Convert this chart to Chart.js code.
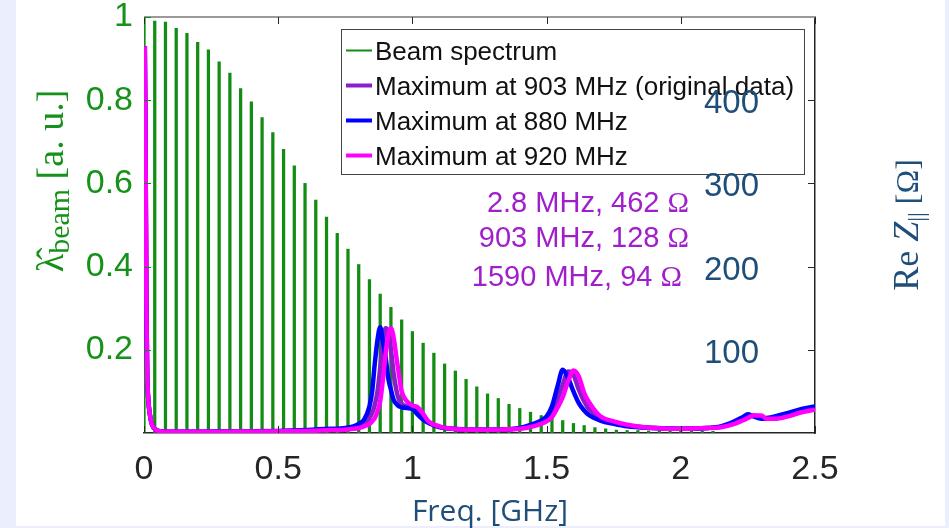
<!DOCTYPE html>
<html>
<head>
<meta charset="utf-8">
<title>Beam spectrum and impedance</title>
<script src="https://cdn.jsdelivr.net/npm/chart.js@4.4.1/dist/chart.umd.min.js"></script>
<style>
  html, body { margin: 0; padding: 0; background: #ebeefc; overflow: hidden; }
  #page { position: absolute; left: 16px; top: 0; width: 929px; height: 526px; background: #fff; }
  #plot { position: absolute; left: 0; top: 0; }
</style>
</head>
<body>
<div id="page"></div>
<canvas id="plot" width="949" height="528"></canvas>
<script>
// Beam spectrum: harmonic lines (GHz) and normalised amplitude
var beamFreq = [0, 0.04, 0.08, 0.12, 0.16, 0.2, 0.24, 0.28, 0.32, 0.36,
                0.4, 0.44, 0.48, 0.52, 0.56, 0.6, 0.64, 0.68, 0.72, 0.76,
                0.8, 0.84, 0.88, 0.92, 0.96, 1.0, 1.04, 1.08, 1.12, 1.16,
                1.2, 1.24, 1.28, 1.32, 1.36, 1.4, 1.44, 1.48, 1.52, 1.56,
                1.6, 1.64, 1.68, 1.72, 1.76, 1.8, 1.84, 1.88, 1.92, 1.96,
                2.0, 2.04, 2.08, 2.12];
var beamAmp = [1.0, 0.99, 0.988, 0.973, 0.961, 0.939, 0.921, 0.892, 0.865, 0.828,
               0.796, 0.758, 0.722, 0.682, 0.642, 0.600, 0.560, 0.519, 0.480, 0.442,
               0.405, 0.369, 0.334, 0.302, 0.272, 0.244, 0.216, 0.192, 0.166, 0.149,
               0.129, 0.111, 0.094, 0.083, 0.069, 0.059, 0.050, 0.042, 0.035, 0.030,
               0.023, 0.018, 0.013, 0.010, 0.007, 0.006, 0.006, 0.005, 0.005, 0.005,
               0.005, 0.004, 0.004, 0.004];

// Re Z (Ohm) on a common frequency grid (GHz)
var zFreq = [0, 0.003, 0.006, 0.009, 0.012, 0.016, 0.022, 0.03, 0.045, 0.06,
             0.1, 0.2, 0.3, 0.4, 0.5, 0.6, 0.65, 0.7, 0.75, 0.78,
             0.8, 0.82, 0.84, 0.85, 0.86, 0.87, 0.88, 0.89, 0.9, 0.91,
             0.92, 0.93, 0.94, 0.95, 0.96, 0.98, 1.0, 1.02, 1.04, 1.06,
             1.1, 1.15, 1.2, 1.3, 1.4, 1.45, 1.48, 1.5, 1.52, 1.54,
             1.56, 1.58, 1.6, 1.62, 1.64, 1.66, 1.7, 1.75, 1.8, 1.9,
             2.0, 2.1, 2.15, 2.2, 2.23, 2.25, 2.27, 2.3, 2.32, 2.35,
             2.4, 2.45, 2.5];
var z903 = [440, 462, 330, 150, 70, 40, 22, 10, 4, 2,
            1.5, 1.5, 1.6, 1.9, 2.2, 3, 3.5, 4, 5, 6,
            8, 11, 18, 24, 34, 50, 78, 108, 126, 122,
            100, 72, 52, 40, 35, 32, 31, 26, 18, 13,
            7.5, 5, 4, 4, 5.5, 9, 13, 17, 25, 40,
            58, 74, 70, 52, 38, 28, 18, 12, 9, 6,
            5, 6, 7.5, 12, 17, 20, 21, 19, 17, 18,
            22, 27, 30];
var z880 = [440, 462, 330, 150, 70, 40, 22, 10, 4, 2,
            1.5, 1.5, 1.8, 2, 2.5, 3.5, 4.5, 5, 6, 8,
            11, 16, 32, 50, 84, 112, 127, 110, 92, 66,
            52, 40, 35, 32, 31, 30, 29, 22, 16, 12,
            7, 5, 4, 4, 6, 11, 15, 20, 32, 55,
            76, 66, 50, 36, 27, 21, 15, 11, 8, 6,
            5, 6, 8, 14, 19, 22.5, 20, 17, 18, 20,
            24, 29, 32];
var z920 = [440, 462, 330, 150, 70, 40, 22, 10, 4, 2,
            1.5, 1.5, 1.5, 1.8, 2, 2.5, 3, 3.5, 4, 5,
            6, 8, 11, 14, 18, 26, 38, 64, 95, 118,
            126, 115, 92, 70, 50, 38, 33, 31, 23, 14,
            8, 5, 4, 4, 5, 8, 11, 14, 19, 30,
            43, 62, 75, 68, 48, 36, 20, 14, 10, 6,
            5, 6, 7, 11, 15, 18, 21, 21, 17, 17,
            20, 25, 28];

var xTickValues = [0, 0.5, 1, 1.5, 2, 2.5];
var beamTickValues = [0.2, 0.4, 0.6, 0.8, 1];
var zTickValues = [100, 200, 300, 400];
var peakNotes = ['2.8 MHz, 462 ', '903 MHz, 128 ', '1590 MHz, 94 '];

var GREEN = '#128c12';
var GREEN_TXT = '#16911a';
var NAVY = '#1f4e79';
var PURPLE = '#8a1ec8';
var NOTE_PURPLE = '#a01fca';
var SANS = 'Liberation Sans, Arial, sans-serif';
var SERIF = 'Liberation Serif, Times New Roman, serif';

function pts(xs, ys) {
    return xs.map(function (x, i) { return { x: x, y: ys[i] }; });
}

function zLine(label, values, color, order, rank) {
    return {
        type: 'line', label: label, data: pts(zFreq, values), yAxisID: 'y1',
        borderColor: color, backgroundColor: color, borderWidth: 4.5,
        pointRadius: 0, fill: false, cubicInterpolationMode: 'monotone',
        order: order, legendRank: rank
    };
}

function fixedTicks(values) {
    return function (scale) {
        scale.ticks = values.map(function (v) { return { value: v }; });
    };
}

// pin the scale's size so the plot area lands where the original has it
function pinSize(prop, size) {
    return function (scale) {
        scale[prop] = size;
        scale.paddingTop = 0;
        scale.paddingBottom = 0;
    };
}

// draws a run of text pieces rotated -90deg, centred on cy
function drawVertical(ctx, parts, baseX, cy, color) {
    ctx.save();
    ctx.fillStyle = color;
    ctx.textAlign = 'left';
    ctx.textBaseline = 'alphabetic';
    var total = 0;
    parts.forEach(function (p) { ctx.font = p.font; p.w = ctx.measureText(p.text).width; total += p.w; });
    ctx.translate(baseX, cy);
    ctx.rotate(-Math.PI / 2);
    var x = -total / 2;
    parts.forEach(function (p) {
        ctx.font = p.font;
        ctx.fillText(p.text, x, p.dy || 0);
        x += p.w;
    });
    ctx.restore();
}

var decor = {
    id: 'decor',
    afterDatasetsDraw: function (chart) {
        var ctx = chart.ctx, a = chart.chartArea;
        var xs = chart.scales.x, ys = chart.scales.y, rs = chart.scales.y1;
        ctx.save();

        // top frame line
        ctx.strokeStyle = '#9a9a9a';
        ctx.lineWidth = 2;
        ctx.beginPath();
        ctx.moveTo(a.left, a.top);
        ctx.lineTo(a.right, a.top);
        ctx.stroke();

        // inward tick marks
        ctx.lineWidth = 1;
        ctx.strokeStyle = '#262626';
        xs.ticks.forEach(function (t) {
            var px = Math.round(xs.getPixelForValue(t.value)) + 0.5;
            ctx.beginPath();
            ctx.moveTo(px, a.top); ctx.lineTo(px, a.top + 7);
            ctx.moveTo(px, a.bottom); ctx.lineTo(px, a.bottom - 7);
            ctx.stroke();
        });
        rs.ticks.forEach(function (t) {
            var py = Math.round(rs.getPixelForValue(t.value)) + 0.5;
            ctx.beginPath();
            ctx.moveTo(a.right, py); ctx.lineTo(a.right - 7, py);
            ctx.stroke();
        });
        ctx.strokeStyle = GREEN;
        ys.ticks.forEach(function (t) {
            var py = Math.round(ys.getPixelForValue(t.value)) + 0.5;
            ctx.beginPath();
            ctx.moveTo(a.left, py); ctx.lineTo(a.left + 7, py);
            ctx.stroke();
        });

        // legend box
        var box = { x: 341, y: 29, w: 463, h: 145 };
        ctx.fillStyle = '#fff';
        ctx.fillRect(box.x, box.y, box.w, box.h);
        ctx.strokeStyle = '#444';
        ctx.lineWidth = 1;
        ctx.strokeRect(box.x + 0.5, box.y + 0.5, box.w, box.h);
        var items = chart.data.datasets.slice().sort(function (p, q) { return p.legendRank - q.legendRank; });
        ctx.font = '26px ' + SANS;
        ctx.textAlign = 'left';
        ctx.textBaseline = 'alphabetic';
        items.forEach(function (d, i) {
            var base = 60 + i * 35;
            var ly = base - 9.5;
            ctx.strokeStyle = d.type === 'bar' ? d.backgroundColor : d.borderColor;
            ctx.lineWidth = d.type === 'bar' ? 2 : 4;
            ctx.beginPath();
            ctx.moveTo(346, ly); ctx.lineTo(372, ly);
            ctx.stroke();
            ctx.fillStyle = '#111';
            ctx.fillText(d.label, 375, base);
        });

        // right axis tick labels sit inside the plot, over the legend
        ctx.font = '33px ' + SANS;
        ctx.fillStyle = NAVY;
        ctx.textAlign = 'right';
        ctx.textBaseline = 'middle';
        rs.ticks.forEach(function (t) {
            ctx.fillText(String(t.value), 759, rs.getPixelForValue(t.value) + 4);
        });

        // peak annotations
        var noteEnds = [689, 689, 682];
        var noteBase = [212, 247, 286];
        ctx.textBaseline = 'alphabetic';
        ctx.fillStyle = NOTE_PURPLE;
        peakNotes.forEach(function (txt, i) {
            ctx.font = '29px ' + SERIF;
            var ow = ctx.measureText('\u03A9').width;
            ctx.textAlign = 'right';
            ctx.fillText('\u03A9', noteEnds[i], noteBase[i]);
            ctx.font = '29px ' + SANS;
            ctx.fillText(txt, noteEnds[i] - ow, noteBase[i]);
        });

        // x axis title
        ctx.font = '30px Open Sans, sans-serif';
        ctx.fillStyle = NAVY;
        ctx.textAlign = 'center';
        ctx.fillText('Freq. [GHz]', 490, 521);

        // left axis title
        drawVertical(ctx, [
            { text: '\u03BB\u0302', font: '38px ' + SERIF },
            { text: 'beam', font: '30px ' + SERIF, dy: 6 },
            { text: ' [a. u.]', font: '38px ' + SERIF }
        ], 63, 181, GREEN_TXT);

        // right axis title
        drawVertical(ctx, [
            { text: 'Re ', font: '36px ' + SERIF },
            { text: 'Z', font: 'italic 36px ' + SERIF },
            { text: '||', font: '24px ' + SERIF, dy: 6 },
            { text: ' [\u03A9]', font: '32px ' + SERIF }
        ], 918, 225, NAVY);

        ctx.restore();
    }
};

var chart = new Chart(document.getElementById('plot'), {
    type: 'line',
    data: {
        datasets: [
            zLine('Maximum at 920 MHz', z920, '#ff00ff', 0, 3),
            zLine('Maximum at 880 MHz', z880, '#0000ff', 1, 2),
            zLine('Maximum at 903 MHz (original data)', z903, PURPLE, 2, 1),
            {
                type: 'bar', label: 'Beam spectrum', data: pts(beamFreq, beamAmp), yAxisID: 'y',
                backgroundColor: GREEN, borderWidth: 0, barThickness: 2.6, grouped: false,
                order: 3, legendRank: 0
            }
        ]
    },
    options: {
        responsive: false,
        animation: false,
        events: [],
        layout: { padding: { top: 17, left: 0, right: 0, bottom: 0 } },
        plugins: { legend: { display: false }, tooltip: { enabled: false } },
        scales: {
            x: {
                type: 'linear', min: 0, max: 2.5, offset: false,
                afterBuildTicks: fixedTicks(xTickValues),
                afterFit: function (s) { s.height = 95; },
                grid: { display: false, drawTicks: false },
                border: { color: '#262626', width: 1.5 },
                ticks: {
                    color: '#262626', font: { family: SANS, size: 34 }, padding: 16,
                    maxRotation: 0, autoSkip: false,
                    callback: function (v) { return String(v); }
                }
            },
            y: {
                position: 'left', min: 0, max: 1,
                afterBuildTicks: fixedTicks(beamTickValues),
                afterFit: pinSize('width', 144),
                grid: { display: false, drawTicks: false },
                border: { display: false },
                ticks: {
                    color: GREEN_TXT, font: { family: SANS, size: 34 }, padding: 11,
                    callback: function (v) { return String(v); }
                }
            },
            y1: {
                position: 'right', min: 0, max: 500,
                afterBuildTicks: fixedTicks(zTickValues),
                afterFit: pinSize('width', 134),
                grid: { display: false, drawTicks: false },
                border: { color: '#262626', width: 1.5 },
                ticks: { display: false }
            }
        }
    },
    plugins: [decor]
});
</script>
</body>
</html>
